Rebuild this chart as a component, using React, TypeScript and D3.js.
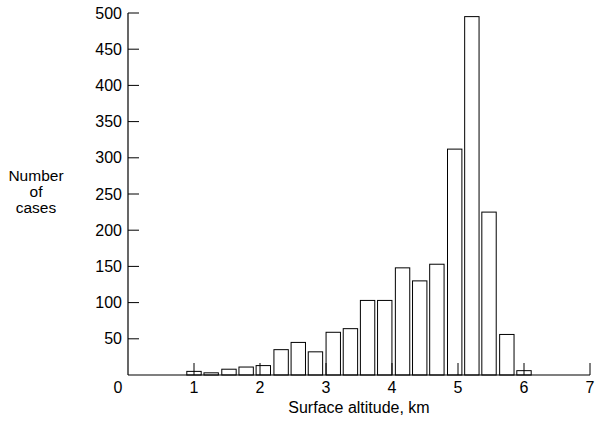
import React from "react";
import * as d3 from "d3";

const binCenters = [1.0, 1.26, 1.53, 1.79, 2.05, 2.32, 2.58, 2.84, 3.11, 3.37, 3.63, 3.89, 4.16, 4.42, 4.68, 4.95, 5.21, 5.47, 5.74, 6.0];
const counts = [5, 3, 8, 11, 13, 35, 45, 32, 59, 64, 103, 103, 148, 130, 153, 312, 495, 225, 56, 6];
const xTicks = [1, 2, 3, 4, 5, 6, 7];
const yTicks = [50, 100, 150, 200, 250, 300, 350, 400, 450, 500];
const barWidthKm = 0.218;

const W = 595;
const H = 428;
const FONT = "'Liberation Sans', Arial, sans-serif";

export default function App() {
  const x = d3.scaleLinear().domain([0, 7]).range([128, 590]);
  const y = d3.scaleLinear().domain([0, 500]).range([375, 13]);
  const bw = x(barWidthKm) - x(0);

  return (
    <svg width={W} height={H} style={{ position: "absolute", left: 0, top: 0, background: "#fff" }}
      fontFamily={FONT}>
      {binCenters.map((c, i) => (
        <rect key={i} x={x(c) - bw / 2} y={y(counts[i])} width={bw} height={y(0) - y(counts[i])}
          fill="#fff" stroke="#000" strokeWidth={1} />
      ))}
      <line x1={x(0)} x2={x(7)} y1={y(0)} y2={y(0)} stroke="#000" strokeWidth={1.2} />
      <line x1={x(0)} x2={x(0)} y1={y(0)} y2={y(500)} stroke="#000" strokeWidth={1.2} />
      {yTicks.map((t) => (
        <g key={t}>
          <line x1={x(0)} x2={x(0) + 11} y1={y(t)} y2={y(t)} stroke="#000" strokeWidth={1} />
          <text x={x(0) - 6} y={y(t)} dy="0.35em" textAnchor="end" fontSize={16}>{t}</text>
        </g>
      ))}
      {xTicks.map((t) => (
        <g key={t}>
          <line x1={x(t)} x2={x(t)} y1={y(0)} y2={y(0) - 12} stroke="#000" strokeWidth={1} />
          <text x={x(t)} y={y(0) + 7} dy="0.71em" textAnchor="middle" fontSize={16}>{t}</text>
        </g>
      ))}
      <text x={x(0) - 10} y={y(0) + 7} dy="0.71em" textAnchor="middle" fontSize={16}>0</text>
      <text x={(x(0) + x(7)) / 2} y={407} dy="0.35em" textAnchor="middle" fontSize={16}>Surface altitude, km</text>
      <text textAnchor="middle" fontSize={15.5}>
        <tspan x={36} y={176} dy="0.35em">Number</tspan>
        <tspan x={36} y={192} dy="0.35em">of</tspan>
        <tspan x={36} y={208} dy="0.35em">cases</tspan>
      </text>
    </svg>
  );
}
